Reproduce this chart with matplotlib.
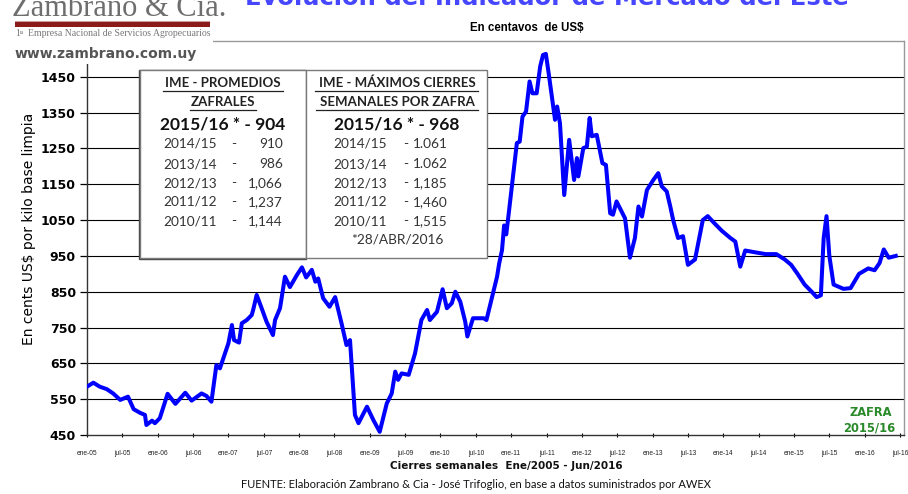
import matplotlib
matplotlib.use("Agg")
import matplotlib.pyplot as plt
from matplotlib.patches import Rectangle
from matplotlib.lines import Line2D

# ---------------- data (decimal years, cents US$/kg) ----------------
years = [2005.00, 2005.09, 2005.18, 2005.28, 2005.37, 2005.47, 2005.58, 2005.66, 2005.75, 2005.82,
         2005.84, 2005.92, 2005.96, 2006.03, 2006.14, 2006.25, 2006.39, 2006.48, 2006.62, 2006.69,
         2006.76, 2006.83, 2006.88, 2007.00, 2007.05, 2007.08, 2007.15, 2007.19, 2007.26, 2007.33,
         2007.35, 2007.40, 2007.47, 2007.54, 2007.63, 2007.66, 2007.73, 2007.80, 2007.87, 2007.97,
         2008.04, 2008.10, 2008.18, 2008.23, 2008.27, 2008.34, 2008.43, 2008.51, 2008.60, 2008.67,
         2008.72, 2008.79, 2008.84, 2008.96, 2009.05, 2009.14, 2009.24, 2009.31, 2009.36, 2009.40,
         2009.45, 2009.55, 2009.64, 2009.73, 2009.81, 2009.85, 2009.95, 2010.03, 2010.09, 2010.16,
         2010.21, 2010.28, 2010.35, 2010.38, 2010.46, 2010.61, 2010.65, 2010.72, 2010.80, 2010.83,
         2010.87, 2010.90, 2010.93, 2010.96, 2011.03, 2011.08, 2011.12, 2011.16, 2011.21, 2011.26,
         2011.30, 2011.36, 2011.41, 2011.45, 2011.49, 2011.53, 2011.62, 2011.65, 2011.69, 2011.75,
         2011.82, 2011.89, 2011.93, 2011.95, 2012.02, 2012.07, 2012.11, 2012.14, 2012.21, 2012.29,
         2012.34, 2012.40, 2012.44, 2012.49, 2012.61, 2012.68, 2012.75, 2012.80, 2012.85, 2012.92,
         2013.01, 2013.08, 2013.13, 2013.20, 2013.25, 2013.29, 2013.36, 2013.43, 2013.50, 2013.60,
         2013.71, 2013.78, 2013.88, 2013.98, 2014.10, 2014.17, 2014.24, 2014.31, 2014.45, 2014.60,
         2014.75, 2014.87, 2014.96, 2015.05, 2015.15, 2015.25, 2015.32, 2015.38, 2015.42, 2015.46,
         2015.50, 2015.56, 2015.70, 2015.80, 2015.92, 2016.05, 2016.14, 2016.21, 2016.27, 2016.34,
         2016.44]
values = [585, 596, 585, 578, 566, 548, 557, 522, 512, 506,
          478, 490, 483, 497, 565, 537, 568, 546, 566, 559,
          543, 645, 636, 706, 757, 715, 708, 762, 771, 785,
          799, 841, 804, 766, 729, 771, 804, 892, 863, 897,
          918, 890, 911, 878, 887, 832, 808, 835, 762, 701,
          715, 506, 483, 529, 492, 459, 538, 566, 627, 604,
          622, 618, 678, 771, 799, 771, 794, 857, 804, 818,
          850, 822, 766, 725, 776, 776, 771, 827, 892, 929,
          966, 1035, 1010, 1060, 1181, 1265, 1269, 1339, 1353, 1437,
          1404, 1404, 1479, 1511, 1514, 1460, 1330, 1367, 1320, 1120,
          1274, 1162, 1223, 1172, 1251, 1255, 1335, 1284, 1288, 1209,
          1204, 1069, 1065, 1102, 1055, 945, 1000, 1088, 1060, 1134,
          1162, 1181, 1144, 1130, 1088, 1051, 1000, 1005, 925, 940,
          1050, 1061, 1040, 1020, 1000, 990, 920, 965, 960, 955,
          955, 940, 925, 900, 870, 850, 835, 840, 1000, 1061,
          950, 870, 858, 860, 900, 915, 910, 930, 968, 945,
          950]

x_tick_labels = ["ene-05", "jul-05", "ene-06", "jul-06", "ene-07", "jul-07", "ene-08", "jul-08",
                 "ene-09", "jul-09", "ene-10", "jul-10", "ene-11", "jul-11", "ene-12", "jul-12",
                 "ene-13", "jul-13", "ene-14", "jul-14", "ene-15", "jul-15", "ene-16", "jul-16"]
y_ticks = [450, 550, 650, 750, 850, 950, 1050, 1150, 1250, 1350, 1450]

prom_title = ["IME - PROMEDIOS", "ZAFRALES"]
prom_main = "2015/16 * - 904"
prom_years = ["2014/15", "2013/14", "2012/13", "2011/12", "2010/11"]
prom_vals = ["910", "986", "1,066", "1,237", "1,144"]

max_title = ["IME - MÁXIMOS CIERRES", "SEMANALES POR ZAFRA"]
max_main = "2015/16 * - 968"
max_years = ["2014/15", "2013/14", "2012/13", "2011/12", "2010/11"]
max_vals = ["1.061", "1.062", "1,185", "1,460", "1,515"]
max_note = "*28/ABR/2016"

# ---------------- figure ----------------
W, H = 908, 494
fig = plt.figure(figsize=(W / 100, H / 100), dpi=100)


def fx(px):
    return px / W


def fy(py):
    return 1 - py / H


ax = fig.add_axes([fx(87), fy(435), fx(904) - fx(87), fy(41) - fy(435)])
ax.plot(years, values, color="#0000ff", lw=2.9, solid_joinstyle="round", zorder=3)
ax.set_xlim(2005.0, 2016.556)
ax.set_ylim(450, 1550)
ax.set_yticks(y_ticks)
ax.set_yticklabels([str(v) for v in y_ticks], fontsize=9, fontweight="bold",
                   family="DejaVu Sans")
ax.set_xticks([2005 + 0.5 * i for i in range(len(x_tick_labels))])
ax.set_xticklabels(x_tick_labels, fontsize=4.8, color="#222222", family="Liberation Sans")
ax.tick_params(axis="y", length=5, width=0.9, pad=3)
ax.tick_params(axis="x", length=3, width=0.8, pad=9, direction="inout")
for v in y_ticks[1:]:
    ax.axhline(v, color="black", lw=0.8, zorder=1)
for s in ["left", "bottom"]:
    ax.spines[s].set_color("#333333")
    ax.spines[s].set_linewidth(1.0)
for s in ["top", "right"]:
    ax.spines[s].set_color("#999999")
    ax.spines[s].set_linewidth(1.0)

ax.set_ylabel("En cents US$ por kilo base limpia", fontsize=10, family="DejaVu Sans")
ax.yaxis.set_label_coords(fx(30) - fx(87), (fy(229) - fy(435)) / (fy(41) - fy(435)))

# ---------------- boxes ----------------
fnt = "Lato"
# shadow edge of first box
fig.patches.append(Rectangle((fx(139), fy(259)), fx(306) - fx(139), fy(70) - fy(259),
                             transform=fig.transFigure, facecolor="none",
                             edgecolor="#444444", lw=1.0, zorder=4))
for (x0, x1) in [(140, 306), (306, 487)]:
    fig.patches.append(Rectangle((fx(x0), fy(258)), fx(x1) - fx(x0), fy(70) - fy(258),
                                 transform=fig.transFigure, facecolor="white",
                                 edgecolor="#7a7a7a", lw=1.0, zorder=5))
# box 1 texts
cx1 = 223
fig.text(fx(cx1), fy(83), prom_title[0], ha="center", va="center", fontsize=9.5,
         fontweight="bold", family=fnt, color="#222222", zorder=6)
fig.text(fx(cx1), fy(102), prom_title[1], ha="center", va="center", fontsize=9.5,
         fontweight="bold", family=fnt, color="#222222", zorder=6)
fig.lines.append(Line2D([fx(163), fx(283)], [fy(91), fy(91)], transform=fig.transFigure,
                        color="#222222", lw=0.9, zorder=6))
fig.lines.append(Line2D([fx(190), fx(256)], [fy(110), fy(110)], transform=fig.transFigure,
                        color="#222222", lw=0.9, zorder=6))
fig.text(fx(cx1), fy(124), prom_main, ha="center", va="center", fontsize=12.5,
         fontweight="bold", family=fnt, color="#111111", zorder=6)
row_y = [144, 164, 183, 202, 221]
for yy, yr, vv in zip(row_y, prom_years, prom_vals):
    fig.text(fx(190), fy(yy), yr, ha="center", va="center", fontsize=9.8, family=fnt,
             color="#333333", zorder=6)
    fig.text(fx(234), fy(yy), "-", ha="center", va="center", fontsize=9.8, family=fnt,
             color="#333333", zorder=6)
    fig.text(fx(283), fy(yy), vv, ha="right", va="center", fontsize=9.8, family=fnt,
             color="#333333", zorder=6)

# box 2 texts
cx2 = 397
fig.text(fx(cx2), fy(83), max_title[0], ha="center", va="center", fontsize=9.5,
         fontweight="bold", family=fnt, color="#222222", zorder=6)
fig.text(fx(cx2), fy(102), max_title[1], ha="center", va="center", fontsize=9.5,
         fontweight="bold", family=fnt, color="#222222", zorder=6)
fig.lines.append(Line2D([fx(315), fx(478)], [fy(91), fy(91)], transform=fig.transFigure,
                        color="#222222", lw=0.9, zorder=6))
fig.lines.append(Line2D([fx(316), fx(478)], [fy(110), fy(110)], transform=fig.transFigure,
                        color="#222222", lw=0.9, zorder=6))
fig.text(fx(cx2), fy(124), max_main, ha="center", va="center", fontsize=12.5,
         fontweight="bold", family=fnt, color="#111111", zorder=6)
for yy, yr, vv in zip(row_y, max_years, max_vals):
    fig.text(fx(360), fy(yy), yr, ha="center", va="center", fontsize=9.8, family=fnt,
             color="#333333", zorder=6)
    fig.text(fx(406), fy(yy), "-", ha="center", va="center", fontsize=9.8, family=fnt,
             color="#333333", zorder=6)
    fig.text(fx(413), fy(yy), vv, ha="left", va="center", fontsize=9.8, family=fnt,
             color="#333333", zorder=6)
fig.text(fx(cx2), fy(240), max_note, ha="center", va="center", fontsize=9.8, family=fnt,
         color="#333333", zorder=6)

# ---------------- logo block (covers top-left) ----------------
fig.patches.append(Rectangle((0, fy(64)), fx(213), 1 - fy(64), transform=fig.transFigure,
                             facecolor="white", edgecolor="none", zorder=7))
fig.text(fx(12), fy(16), "Zambrano & Cía.", ha="left", va="baseline", fontsize=22,
         family="Liberation Serif", color="#6e6e6e", zorder=8)
fig.patches.append(Rectangle((fx(15), fy(27)), fx(195), fy(21) - fy(27),
                             transform=fig.transFigure, facecolor="#8c1c1c",
                             edgecolor="none", zorder=8))
fig.patches.append(Rectangle((fx(15), fy(22.5)), fx(195), fy(21) - fy(22.5),
                             transform=fig.transFigure, facecolor="#c9a0a0",
                             edgecolor="none", zorder=9))
fig.text(fx(15), fy(34), "1", ha="left", va="center", fontsize=7,
         family="Liberation Serif", color="#777777", zorder=8)
fig.text(fx(19.5), fy(32), "ra", ha="left", va="center", fontsize=4,
         family="Liberation Serif", color="#777777", zorder=8)
fig.text(fx(28), fy(34), "Empresa Nacional de Servicios Agropecuarios", ha="left",
         va="center", fontsize=7, family="Liberation Serif", color="#777777", zorder=8)
fig.text(fx(15), fy(54), "www.zambrano.com.uy", ha="left", va="center", fontsize=10,
         fontweight="bold", family="DejaVu Sans", color="#555555", zorder=8)

# ---------------- titles / notes ----------------
fig.text(fx(245), fy(5), "Evolución del Indicador de Mercado del Este", ha="left",
         va="baseline", fontsize=17.5, fontweight="bold", family="DejaVu Sans",
         color="#4646ff")
fig.text(fx(527), fy(28), "En centavos  de US$", ha="center", va="center", fontsize=8.3,
         fontweight="bold", family="Liberation Sans", color="black")
fig.text(fx(506), fy(466), "Cierres semanales  Ene/2005 - Jun/2016", ha="center",
         va="center", fontsize=7.5, fontweight="bold", family="DejaVu Sans", color="#111111")
fig.text(fx(476), fy(484), "FUENTE: Elaboración Zambrano & Cia - José Trifoglio, en base a "
         "datos suministrados por AWEX", ha="center", va="center", fontsize=8.0,
         family=fnt, color="#111111")
fig.text(fx(871), fy(413), "ZAFRA", ha="center", va="center", fontsize=8.3,
         fontweight="bold", family="DejaVu Sans", color="#2a8a2a", zorder=6)
fig.text(fx(869), fy(428), "2015/16", ha="center", va="center", fontsize=8.3,
         fontweight="bold", family="DejaVu Sans", color="#2a8a2a", zorder=6)

fig.savefig("out.png", dpi=100, facecolor="white")
